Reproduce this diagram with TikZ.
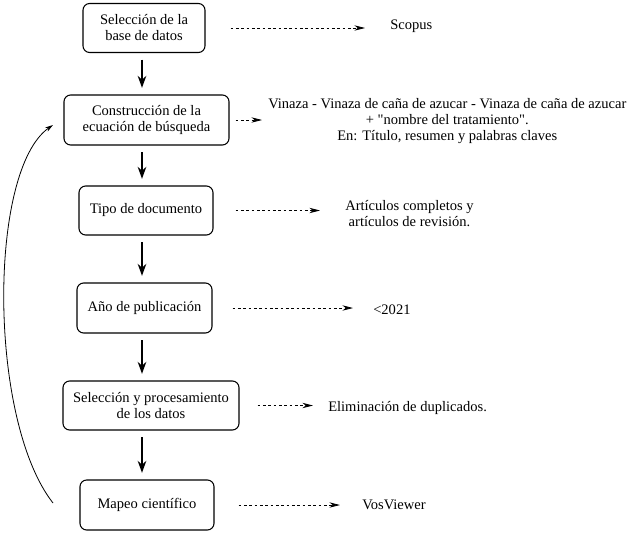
\documentclass[tikz,border=0pt]{standalone}
\usepackage{fontspec}
\setmainfont{Liberation Serif}
\usetikzlibrary{calc, arrows.meta}

\begin{document}
\begin{tikzpicture}[x=0.75pt, y=-0.75pt, font=\fontsize{10.9}{12}\selectfont]
  \tikzstyle{box1}=[draw, line width=0.8pt, rounded corners=5pt, align=center, inner sep=2pt]
  \tikzstyle{note}=[anchor=west, align=center, inner sep=0pt]
  \tikzstyle{flow}=[line width=0.8pt, -{Stealth[length=9pt, width=6.5pt]}, shorten <=5pt, shorten >=5pt]
  \tikzstyle{dots}=[line width=0.6pt, dash pattern=on 2pt off 2pt, -{Stealth[length=8pt, width=4pt]}]

  \useasboundingbox (0,0) rectangle (627,535);

  % pasos
  \node (sel_base) [box1, minimum width=91.5pt, minimum height=36.75pt] at (144,28) {Selección de la\\base de datos};
  \node (cons_ec) [box1, minimum width=123.75pt, minimum height=37.5pt] at (146.5,120) {Construcción de la\\ecuación de búsqueda};
  \node (tipo_doc) [box1, minimum width=100.5pt, minimum height=36.75pt] at (146,210.5) {Tipo de documento};
  \node (anio_pub) [box1, minimum width=101.25pt, minimum height=37.5pt] at (144.5,308) {Año de publicación};
  \node (sel_proc) [box1, minimum width=132pt, minimum height=36.75pt] at (151,405.5) {Selección y procesamiento\\de los datos};
  \node (mapeo) [box1, minimum width=100.5pt, minimum height=37.5pt] at (147,505) {Mapeo científico};

  % notas
  \node (scopus) [note] at (390,26) {Scopus};
  \node (vinaza) [note] at (268,121) {Vinaza - Vinaza de caña de azucar - Vinaza de caña de azucar\\+ \textquotedbl nombre del tratamiento\textquotedbl.\\En: Título, resumen y palabras claves};
  \node (art) [note] at (345,213.5) {Artículos completos y\\artículos de revisión.};
  \node (year) [note] at (373,310) {<2021};
  \node (elim) [note] at (328,408) {Eliminación de duplicados.};
  \node (vos) [note] at (362,505) {VosViewer};

  \coordinate (axis) at (142,0);
  \foreach \a/\b in {sel_base/cons_ec, cons_ec/tipo_doc, tipo_doc/anio_pub, anio_pub/sel_proc, sel_proc/mapeo} {
    \draw[flow] (\a.south -| axis) -- (\b.north -| axis);
  }

  \draw[dots, shorten <=18.75pt, shorten >=18.75pt] (sel_base.east) -- (sel_base.east -| scopus.west);
  \draw[dots, shorten <=4.5pt, shorten >=4.5pt] (cons_ec.east) -- (cons_ec.east -| vinaza.west);
  \draw[dots, shorten <=16.5pt, shorten >=18.75pt] (tipo_doc.east) -- (tipo_doc.east -| art.west);
  \draw[dots, shorten <=15pt, shorten >=15pt] (anio_pub.east) -- (anio_pub.east -| year.west);
  \draw[dots, shorten <=13.5pt, shorten >=11.25pt] (sel_proc.east) -- (sel_proc.east -| elim.west);
  \draw[dots, shorten <=18pt, shorten >=16.5pt] (mapeo.east) -- (mapeo.east -| vos.west);

  % retorno
  \coordinate (loop_s) at (53,503);
  \coordinate (loop_e) at (53,125);
  \draw[line width=0.6pt, -{Stealth[length=6pt, width=3.5pt]}] (loop_s) .. controls (-12,420) and (-12,170) .. (loop_e);

\end{tikzpicture}
\end{document}
